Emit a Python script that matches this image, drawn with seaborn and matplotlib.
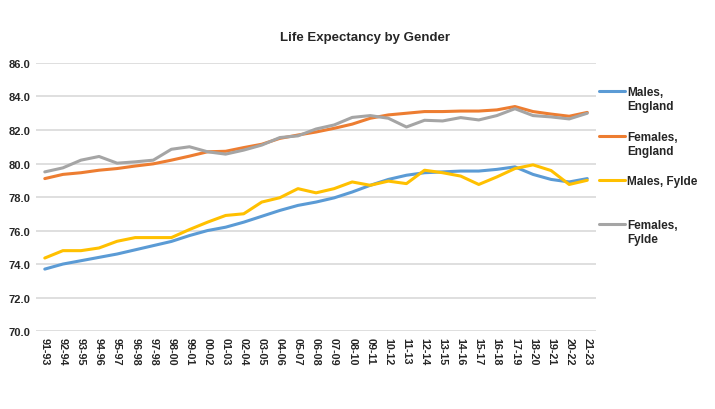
import pandas as pd
import matplotlib.pyplot as plt
import seaborn as sns

periods = ['91-93', '92-94', '93-95', '94-96', '95-97', '96-98', '97-98', '98-00',
           '99-01', '00-02', '01-03', '02-04', '03-05', '04-06', '05-07', '06-08',
           '07-09', '08-10', '09-11', '10-12', '11-13', '12-14', '13-15', '14-16',
           '15-17', '16-18', '17-19', '18-20', '19-21', '20-22', '21-23']

males_england = [73.7, 74.0, 74.2, 74.4, 74.6, 74.85, 75.1, 75.35, 75.7, 76.0, 76.2,
                 76.5, 76.85, 77.2, 77.5, 77.7, 77.95, 78.3, 78.7, 79.05, 79.3,
                 79.45, 79.5, 79.55, 79.55, 79.65, 79.8, 79.35, 79.05, 78.9, 79.1]
females_england = [79.1, 79.35, 79.45, 79.6, 79.7, 79.85, 79.98, 80.2, 80.44, 80.7, 80.73,
                   80.95, 81.15, 81.5, 81.7, 81.88, 82.1, 82.35, 82.7, 82.9, 83.0,
                   83.1, 83.1, 83.13, 83.13, 83.2, 83.4, 83.1, 82.95, 82.82, 83.05]
males_fylde = [74.36, 74.8, 74.8, 74.96, 75.36, 75.58, 75.58, 75.58, 76.06, 76.5, 76.9,
               77.0, 77.7, 77.96, 78.5, 78.25, 78.5, 78.9, 78.7, 78.95, 78.8,
               79.6, 79.45, 79.25, 78.75, 79.2, 79.7, 79.92, 79.58, 78.75, 79.0]
females_fylde = [79.5, 79.74, 80.2, 80.42, 80.02, 80.1, 80.2, 80.85, 81.0, 80.7, 80.56,
                 80.8, 81.1, 81.55, 81.65, 82.06, 82.3, 82.75, 82.86, 82.7, 82.18,
                 82.58, 82.54, 82.74, 82.6, 82.86, 83.27, 82.86, 82.78, 82.66, 83.0]

series_names = ['Males, England', 'Females, England', 'Males, Fylde', 'Females, Fylde']
# how the legend wraps each name (first line next to the swatch)
legend_lines = [('Males,', 'England'), ('Females,', 'England'),
                ('Males, Fylde', ''), ('Females,', 'Fylde')]
colors = ['#5B9BD5', '#ED7D31', '#FFC000', '#A5A5A5']

frames = []
for name, vals in zip(series_names, [males_england, females_england, males_fylde, females_fylde]):
    frames.append(pd.DataFrame({'Period': periods, 'Life': vals, 'Series': name}))
df = pd.concat(frames, ignore_index=True)

sns.set_style('white')
plt.rcParams['font.family'] = ['Liberation Sans', 'DejaVu Sans']

fig = plt.figure(figsize=(7.15, 4.1), dpi=100)
ax = fig.add_axes([0.05, 0.19, 0.784, 0.654])

sns.lineplot(data=df, x='Period', y='Life', hue='Series', palette=colors,
             linewidth=2.2, ax=ax, sort=False, legend=True)

ax.set_xlim(-0.5, len(periods) - 0.5)
ax.set_ylim(70, 86)
ax.set_yticks([70, 72, 74, 76, 78, 80, 82, 84, 86])
ax.set_yticklabels([f'{v:.1f}' for v in ax.get_yticks()], fontsize=8, fontweight='bold')
ax.set_xticks(range(len(periods)))
ax.set_xticklabels(periods, rotation=270, fontsize=7.8, fontweight='bold')
ax.tick_params(axis='both', length=0, pad=4)
ax.yaxis.grid(True, color='#D9D9D9', linewidth=1.2)
ax.set_axisbelow(True)
for s in ax.spines.values():
    s.set_visible(False)
ax.set_xlabel('')
ax.set_ylabel('')

fig.text(0.51, 0.907, 'Life Expectancy by Gender', ha='center', va='center',
         fontsize=9.5, fontweight='bold')

# one legend per entry, swatch level with the first line of text
handles, labels = ax.get_legend_handles_labels()
ax.get_legend().remove()
legend_y = [0.892, 0.725, 0.561, 0.397]
legs = []
for h, (first, second), y in zip(handles, legend_lines, legend_y):
    leg = fig.legend([h], [first], loc='center left', bbox_to_anchor=(1.0, y),
                     bbox_transform=ax.transAxes, frameon=False, fontsize=8.5,
                     handlelength=2.2, handletextpad=0.2, borderaxespad=0, borderpad=0.2)
    for t in leg.get_texts():
        t.set_fontweight('bold')
    for l in leg.get_lines():
        l.set_linewidth(2.2)
    legs.append((leg, second))

fig.canvas.draw()
for leg, second in legs:
    if not second:
        continue
    bb = leg.get_texts()[0].get_window_extent()
    fig.text(bb.x0 / fig.bbox.width, (bb.y0 - 14) / fig.bbox.height, second,
             fontsize=8.5, fontweight='bold', ha='left', va='bottom')

plt.savefig('out.png', dpi=100)
